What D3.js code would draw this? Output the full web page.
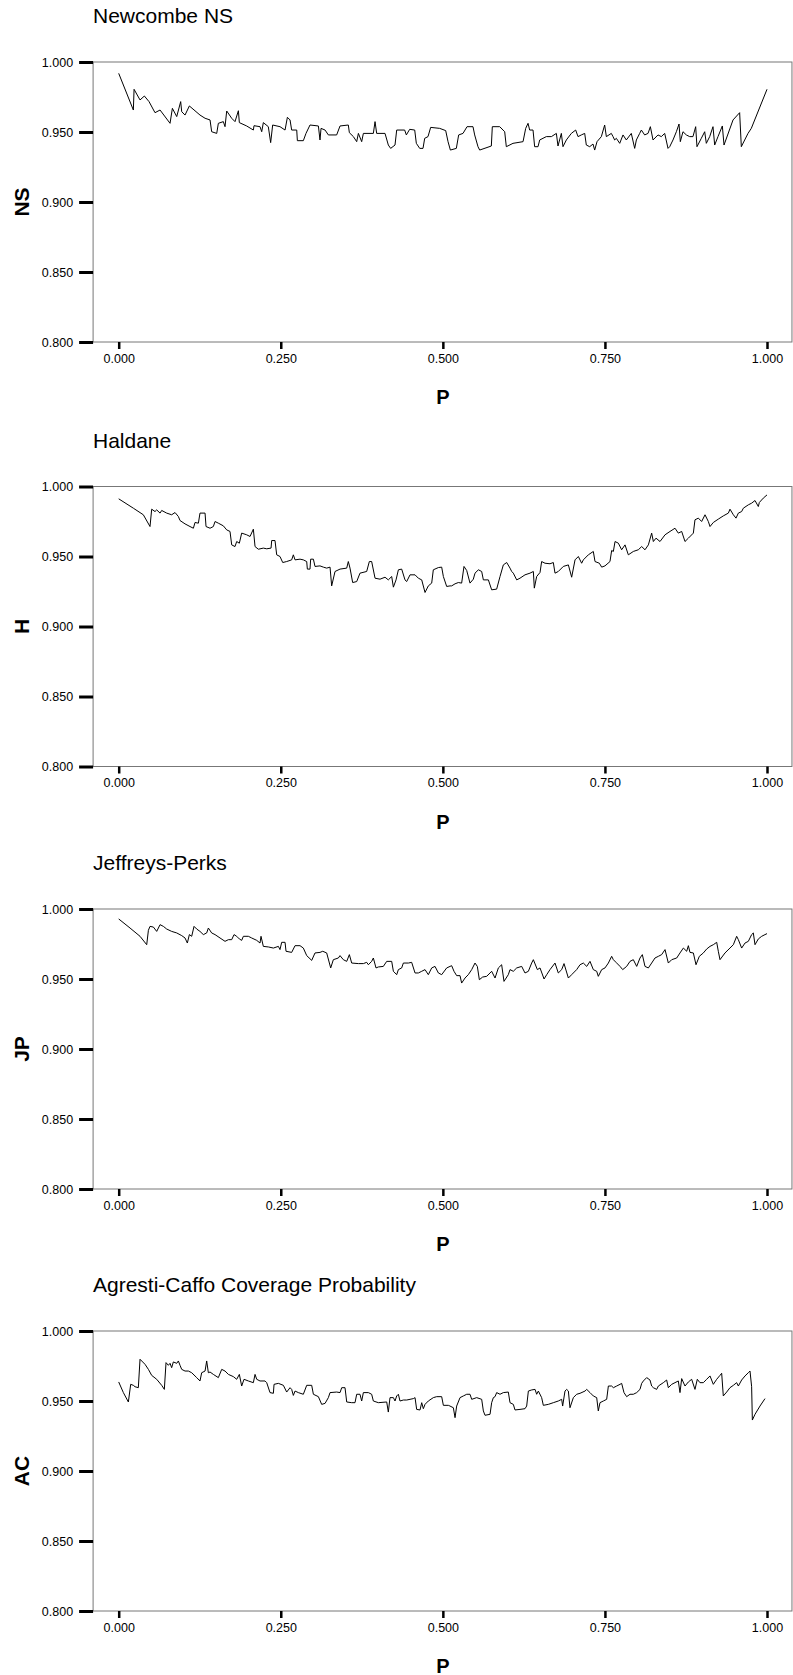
<!DOCTYPE html>
<html>
<head>
<meta charset="utf-8">
<script src="https://cdn.jsdelivr.net/npm/d3@7"></script>
<style>
  body { margin: 0; background: #fff; }
  text { font-family: "Liberation Sans", Arial, sans-serif; }
</style>
</head>
<body>
<div id="Chart"></div>
<script>
// values: [P, coverage]
const newcombeNS = [
  [0.000,0.9919],[0.0226,0.9657],[0.0237,0.9805],[0.0329,0.9729],[0.0396,0.9757],[0.0468,0.9717],[0.0560,0.9638],[0.0638,0.9657],
  [0.0792,0.9562],[0.0828,0.9669],[0.0895,0.9610],[0.0956,0.9717],[0.0972,0.9645],[0.1023,0.9621],[0.1090,0.9686],[0.1254,0.9621],
  [0.1332,0.9598],[0.1409,0.9586],[0.1434,0.9502],[0.1512,0.9490],[0.1537,0.9562],[0.1614,0.9574],[0.1640,0.9538],[0.1666,0.9650],
  [0.1743,0.9598],[0.1794,0.9574],[0.1846,0.9652],[0.1861,0.9567],[0.1974,0.9543],[0.2077,0.9514],[0.2087,0.9545],[0.2180,0.9538],
  [0.2206,0.9502],[0.2231,0.9567],[0.2308,0.9538],[0.2344,0.9424],[0.2375,0.9550],[0.2488,0.9538],[0.2566,0.9514],[0.2602,0.9605],
  [0.2643,0.9586],[0.2668,0.9514],[0.2746,0.9514],[0.2756,0.9438],[0.2848,0.9438],[0.2889,0.9490],[0.2951,0.9550],[0.3080,0.9543],
  [0.3105,0.9443],[0.3121,0.9526],[0.3183,0.9514],[0.3234,0.9479],[0.3362,0.9479],[0.3414,0.9543],[0.3542,0.9550],[0.3558,0.9495],
  [0.3620,0.9467],[0.3671,0.9431],[0.3697,0.9490],[0.3748,0.9431],[0.3774,0.9490],[0.3928,0.9490],[0.3954,0.9574],[0.3979,0.9490],
  [0.4108,0.9490],[0.4159,0.9407],[0.4195,0.9383],[0.4262,0.9407],[0.4288,0.9514],[0.4411,0.9514],[0.4437,0.9479],[0.4488,0.9519],
  [0.4566,0.9514],[0.4591,0.9419],[0.4643,0.9383],[0.4694,0.9383],[0.4720,0.9455],[0.4771,0.9467],[0.4812,0.9533],[0.4951,0.9526],
  [0.5044,0.9510],[0.5080,0.9431],[0.5116,0.9371],[0.5208,0.9383],[0.5244,0.9479],[0.5311,0.9490],[0.5373,0.9538],[0.5465,0.9538],
  [0.5491,0.9479],[0.5542,0.9395],[0.5568,0.9371],[0.5748,0.9400],[0.5763,0.9538],[0.5877,0.9538],[0.5954,0.9502],[0.5979,0.9395],
  [0.6082,0.9419],[0.6237,0.9431],[0.6278,0.9526],[0.6314,0.9562],[0.6339,0.9514],[0.6391,0.9514],[0.6416,0.9395],[0.6468,0.9395],
  [0.6494,0.9443],[0.6596,0.9467],[0.6674,0.9467],[0.6751,0.9490],[0.6776,0.9400],[0.6828,0.9490],[0.6853,0.9395],[0.6905,0.9443],
  [0.6982,0.9490],[0.7049,0.9514],[0.7085,0.9467],[0.7136,0.9479],[0.7188,0.9490],[0.7213,0.9407],[0.7265,0.9395],[0.7316,0.9414],
  [0.7342,0.9371],[0.7378,0.9431],[0.7445,0.9467],[0.7496,0.9550],[0.7522,0.9467],[0.7599,0.9490],[0.7625,0.9467],[0.7650,0.9443],
  [0.7676,0.9455],[0.7728,0.9419],[0.7779,0.9479],[0.7830,0.9443],[0.7907,0.9490],[0.7959,0.9383],[0.7985,0.9443],[0.8036,0.9490],
  [0.8062,0.9514],[0.8113,0.9479],[0.8165,0.9490],[0.8201,0.9538],[0.8242,0.9443],[0.8319,0.9479],[0.8370,0.9467],[0.8422,0.9490],
  [0.8473,0.9383],[0.8499,0.9395],[0.8550,0.9443],[0.8602,0.9502],[0.8643,0.9557],[0.8663,0.9431],[0.8704,0.9502],[0.8756,0.9479],
  [0.8807,0.9467],[0.8858,0.9467],[0.8900,0.9538],[0.8920,0.9395],[0.8987,0.9455],[0.9039,0.9502],[0.9064,0.9419],[0.9116,0.9467],
  [0.9167,0.9538],[0.9193,0.9407],[0.9244,0.9467],[0.9311,0.9543],[0.9337,0.9407],[0.9476,0.9586],[0.9578,0.9638],[0.9604,0.9395],
  [0.9707,0.9490],[0.9758,0.9526],[1.000,0.9805]
]
const haldane = [
  [0.000,0.9912],[0.0226,0.9845],[0.0380,0.9798],[0.0483,0.9714],[0.0509,0.9838],[0.0560,0.9821],[0.0586,0.9833],[0.0638,0.9810],
  [0.0663,0.9829],[0.0740,0.9810],[0.0817,0.9798],[0.0869,0.9814],[0.0920,0.9786],[0.0946,0.9757],[0.1023,0.9733],[0.1100,0.9714],
  [0.1152,0.9702],[0.1177,0.9743],[0.1229,0.9738],[0.1254,0.9810],[0.1332,0.9810],[0.1347,0.9714],[0.1409,0.9702],[0.1460,0.9714],
  [0.1486,0.9750],[0.1537,0.9738],[0.1614,0.9719],[0.1666,0.9690],[0.1717,0.9679],[0.1743,0.9583],[0.1794,0.9571],[0.1820,0.9607],
  [0.1861,0.9595],[0.1897,0.9667],[0.1974,0.9655],[0.2026,0.9643],[0.2077,0.9695],[0.2103,0.9571],[0.2154,0.9552],[0.2231,0.9560],
  [0.2283,0.9555],[0.2350,0.9560],[0.2360,0.9614],[0.2411,0.9614],[0.2437,0.9512],[0.2488,0.9500],[0.2530,0.9457],[0.2591,0.9464],
  [0.2668,0.9476],[0.2694,0.9512],[0.2720,0.9476],[0.2797,0.9481],[0.2848,0.9476],[0.2900,0.9464],[0.2910,0.9410],[0.2951,0.9410],
  [0.2961,0.9481],[0.3003,0.9481],[0.3028,0.9429],[0.3105,0.9433],[0.3157,0.9424],[0.3208,0.9417],[0.3260,0.9424],[0.3285,0.9290],
  [0.3337,0.9393],[0.3414,0.9410],[0.3517,0.9417],[0.3542,0.9464],[0.3568,0.9417],[0.3609,0.9314],[0.3671,0.9321],[0.3722,0.9381],
  [0.3825,0.9393],[0.3866,0.9464],[0.3902,0.9464],[0.3954,0.9345],[0.4031,0.9338],[0.4108,0.9352],[0.4159,0.9333],[0.4211,0.9357],
  [0.4237,0.9281],[0.4278,0.9333],[0.4314,0.9405],[0.4365,0.9410],[0.4416,0.9333],[0.4442,0.9321],[0.4494,0.9369],[0.4571,0.9369],
  [0.4622,0.9345],[0.4674,0.9333],[0.4725,0.9243],[0.4776,0.9290],[0.4828,0.9310],[0.4853,0.9405],[0.4931,0.9421],[0.4982,0.9424],
  [0.5008,0.9357],[0.5059,0.9286],[0.5111,0.9290],[0.5136,0.9290],[0.5188,0.9305],[0.5239,0.9314],[0.5290,0.9310],[0.5326,0.9429],
  [0.5368,0.9400],[0.5419,0.9310],[0.5470,0.9338],[0.5496,0.9381],[0.5548,0.9405],[0.5599,0.9393],[0.5625,0.9333],[0.5702,0.9333],
  [0.5753,0.9262],[0.5830,0.9267],[0.5882,0.9357],[0.5933,0.9440],[0.5985,0.9457],[0.6036,0.9417],[0.6062,0.9393],[0.6087,0.9381],
  [0.6139,0.9333],[0.6190,0.9345],[0.6267,0.9369],[0.6344,0.9381],[0.6396,0.9393],[0.6411,0.9274],[0.6447,0.9357],[0.6499,0.9386],
  [0.6524,0.9464],[0.6576,0.9452],[0.6653,0.9448],[0.6704,0.9457],[0.6730,0.9381],[0.6781,0.9393],[0.6858,0.9429],[0.6936,0.9440],
  [0.6987,0.9352],[0.7039,0.9476],[0.7090,0.9500],[0.7141,0.9452],[0.7167,0.9476],[0.7244,0.9512],[0.7321,0.9536],[0.7347,0.9464],
  [0.7414,0.9452],[0.7450,0.9424],[0.7501,0.9433],[0.7578,0.9464],[0.7604,0.9543],[0.7630,0.9536],[0.7656,0.9607],[0.7707,0.9595],
  [0.7758,0.9548],[0.7810,0.9583],[0.7861,0.9512],[0.7938,0.9536],[0.8015,0.9548],[0.8067,0.9571],[0.8118,0.9548],[0.8170,0.9583],
  [0.8221,0.9667],[0.8247,0.9607],[0.8288,0.9631],[0.8350,0.9607],[0.8427,0.9655],[0.8504,0.9679],[0.8581,0.9702],[0.8632,0.9667],
  [0.8684,0.9679],[0.8735,0.9607],[0.8787,0.9631],[0.8864,0.9667],[0.8889,0.9762],[0.8941,0.9774],[0.8992,0.9750],[0.9044,0.9798],
  [0.9095,0.9750],[0.9121,0.9714],[0.9172,0.9743],[0.9249,0.9767],[0.9326,0.9790],[0.9404,0.9810],[0.9429,0.9838],[0.9481,0.9798],
  [0.9522,0.9774],[0.9558,0.9810],[0.9609,0.9821],[0.9635,0.9845],[0.9712,0.9869],[0.9763,0.9881],[0.9815,0.9900],[0.9866,0.9857],
  [0.9882,0.9886],[0.9943,0.9917],[1.000,0.9940]
]
const jeffreysPerks = [
  [0.000,0.9929],[0.0175,0.9864],[0.0329,0.9805],[0.0432,0.9745],[0.0458,0.9848],[0.0483,0.9876],[0.0535,0.9871],[0.0586,0.9840],
  [0.0638,0.9888],[0.0689,0.9876],[0.0740,0.9857],[0.0817,0.9840],[0.0895,0.9829],[0.0972,0.9810],[0.1023,0.9793],[0.1059,0.9757],
  [0.1090,0.9817],[0.1126,0.9805],[0.1162,0.9876],[0.1203,0.9857],[0.1254,0.9840],[0.1306,0.9817],[0.1357,0.9829],[0.1383,0.9864],
  [0.1434,0.9829],[0.1486,0.9817],[0.1563,0.9793],[0.1640,0.9769],[0.1692,0.9781],[0.1743,0.9781],[0.1779,0.9817],[0.1820,0.9805],
  [0.1861,0.9786],[0.1897,0.9776],[0.1923,0.9805],[0.2000,0.9805],[0.2051,0.9793],[0.2129,0.9776],[0.2180,0.9757],[0.2195,0.9805],
  [0.2231,0.9733],[0.2308,0.9729],[0.2386,0.9721],[0.2463,0.9733],[0.2488,0.9710],[0.2514,0.9762],[0.2566,0.9762],[0.2581,0.9698],
  [0.2668,0.9690],[0.2720,0.9738],[0.2797,0.9738],[0.2848,0.9721],[0.2900,0.9667],[0.2977,0.9633],[0.3028,0.9686],[0.3105,0.9690],
  [0.3147,0.9698],[0.3208,0.9686],[0.3270,0.9579],[0.3311,0.9638],[0.3388,0.9650],[0.3414,0.9667],[0.3465,0.9638],[0.3517,0.9626],
  [0.3558,0.9674],[0.3594,0.9614],[0.3697,0.9610],[0.3774,0.9610],[0.3825,0.9619],[0.3851,0.9602],[0.3902,0.9626],[0.3928,0.9650],
  [0.3969,0.9579],[0.4005,0.9586],[0.4082,0.9590],[0.4134,0.9626],[0.4211,0.9626],[0.4237,0.9555],[0.4288,0.9531],[0.4314,0.9567],
  [0.4365,0.9579],[0.4391,0.9614],[0.4468,0.9614],[0.4519,0.9619],[0.4571,0.9543],[0.4622,0.9543],[0.4674,0.9555],[0.4725,0.9567],
  [0.4776,0.9531],[0.4828,0.9579],[0.4879,0.9590],[0.4931,0.9543],[0.4982,0.9531],[0.5059,0.9579],[0.5111,0.9590],[0.5136,0.9595],
  [0.5172,0.9555],[0.5213,0.9524],[0.5265,0.9524],[0.5290,0.9471],[0.5342,0.9507],[0.5393,0.9531],[0.5445,0.9567],[0.5496,0.9614],
  [0.5532,0.9590],[0.5563,0.9495],[0.5614,0.9514],[0.5676,0.9519],[0.5753,0.9555],[0.5805,0.9507],[0.5856,0.9579],[0.5907,0.9602],
  [0.5943,0.9483],[0.6010,0.9531],[0.6036,0.9567],[0.6087,0.9555],[0.6139,0.9579],[0.6216,0.9590],[0.6267,0.9543],[0.6319,0.9555],
  [0.6370,0.9614],[0.6396,0.9638],[0.6458,0.9567],[0.6499,0.9579],[0.6561,0.9500],[0.6602,0.9531],[0.6653,0.9567],[0.6730,0.9614],
  [0.6781,0.9543],[0.6833,0.9567],[0.6869,0.9610],[0.6936,0.9507],[0.6987,0.9531],[0.7064,0.9567],[0.7116,0.9602],[0.7167,0.9614],
  [0.7219,0.9590],[0.7270,0.9626],[0.7321,0.9567],[0.7373,0.9555],[0.7398,0.9519],[0.7450,0.9567],[0.7501,0.9579],[0.7553,0.9614],
  [0.7604,0.9662],[0.7630,0.9638],[0.7671,0.9619],[0.7733,0.9590],[0.7774,0.9567],[0.7835,0.9590],[0.7887,0.9626],[0.7938,0.9638],
  [0.7990,0.9590],[0.8041,0.9650],[0.8077,0.9674],[0.8118,0.9590],[0.8170,0.9579],[0.8221,0.9614],[0.8272,0.9650],[0.8324,0.9662],
  [0.8375,0.9674],[0.8427,0.9710],[0.8478,0.9614],[0.8530,0.9638],[0.8607,0.9650],[0.8658,0.9686],[0.8710,0.9721],[0.8761,0.9698],
  [0.8787,0.9738],[0.8812,0.9690],[0.8864,0.9686],[0.8905,0.9602],[0.8956,0.9662],[0.9018,0.9686],[0.9069,0.9714],[0.9121,0.9733],
  [0.9172,0.9745],[0.9224,0.9762],[0.9249,0.9698],[0.9275,0.9638],[0.9352,0.9686],[0.9429,0.9721],[0.9481,0.9745],[0.9532,0.9805],
  [0.9558,0.9781],[0.9609,0.9721],[0.9661,0.9757],[0.9712,0.9769],[0.9763,0.9817],[0.9789,0.9829],[0.9815,0.9745],[0.9866,0.9786],
  [0.9918,0.9805],[0.9969,0.9817],[1.000,0.9824]
]
const agrestiCaffo = [
  [0.000,0.9636],[0.0072,0.9560],[0.0149,0.9493],[0.0185,0.9619],[0.0226,0.9612],[0.0252,0.9602],[0.0303,0.9595],[0.0329,0.9798],
  [0.0406,0.9762],[0.0458,0.9726],[0.0509,0.9683],[0.0586,0.9655],[0.0663,0.9612],[0.0704,0.9583],[0.0730,0.9774],[0.0766,0.9755],
  [0.0792,0.9769],[0.0817,0.9738],[0.0843,0.9779],[0.0895,0.9769],[0.0920,0.9786],[0.0946,0.9755],[0.0972,0.9726],[0.1023,0.9714],
  [0.1075,0.9714],[0.1126,0.9702],[0.1203,0.9667],[0.1254,0.9643],[0.1280,0.9702],[0.1332,0.9714],[0.1357,0.9786],[0.1383,0.9702],
  [0.1409,0.9707],[0.1460,0.9690],[0.1537,0.9667],[0.1589,0.9726],[0.1640,0.9714],[0.1692,0.9690],[0.1769,0.9674],[0.1820,0.9655],
  [0.1861,0.9690],[0.1897,0.9607],[0.1933,0.9655],[0.2000,0.9643],[0.2077,0.9631],[0.2103,0.9690],[0.2129,0.9655],[0.2180,0.9643],
  [0.2257,0.9643],[0.2283,0.9631],[0.2334,0.9560],[0.2386,0.9555],[0.2396,0.9619],[0.2463,0.9626],[0.2540,0.9612],[0.2591,0.9564],
  [0.2643,0.9595],[0.2668,0.9583],[0.2694,0.9540],[0.2720,0.9571],[0.2771,0.9560],[0.2848,0.9548],[0.2900,0.9612],[0.2977,0.9612],
  [0.3003,0.9548],[0.3080,0.9531],[0.3131,0.9476],[0.3183,0.9483],[0.3234,0.9524],[0.3260,0.9560],[0.3362,0.9564],[0.3414,0.9560],
  [0.3440,0.9595],[0.3491,0.9595],[0.3517,0.9493],[0.3594,0.9488],[0.3645,0.9488],[0.3671,0.9548],[0.3722,0.9548],[0.3748,0.9500],
  [0.3774,0.9560],[0.3851,0.9560],[0.3902,0.9548],[0.3928,0.9500],[0.4005,0.9488],[0.4134,0.9493],[0.4159,0.9421],[0.4185,0.9524],
  [0.4237,0.9524],[0.4262,0.9500],[0.4288,0.9536],[0.4314,0.9548],[0.4339,0.9500],[0.4391,0.9507],[0.4442,0.9507],[0.4545,0.9517],
  [0.4571,0.9524],[0.4596,0.9440],[0.4648,0.9436],[0.4674,0.9488],[0.4699,0.9445],[0.4725,0.9476],[0.4776,0.9500],[0.4853,0.9524],
  [0.4905,0.9531],[0.4982,0.9531],[0.5008,0.9469],[0.5085,0.9469],[0.5110,0.9464],[0.5162,0.9452],[0.5188,0.9381],[0.5213,0.9464],
  [0.5265,0.9524],[0.5316,0.9536],[0.5368,0.9548],[0.5419,0.9548],[0.5445,0.9512],[0.5522,0.9524],[0.5599,0.9512],[0.5625,0.9429],
  [0.5650,0.9398],[0.5728,0.9405],[0.5753,0.9488],[0.5779,0.9524],[0.5805,0.9531],[0.5830,0.9560],[0.5882,0.9548],[0.5933,0.9560],
  [0.6010,0.9564],[0.6036,0.9488],[0.6087,0.9476],[0.6113,0.9436],[0.6190,0.9440],[0.6267,0.9445],[0.6293,0.9464],[0.6319,0.9571],
  [0.6370,0.9579],[0.6422,0.9583],[0.6447,0.9548],[0.6473,0.9571],[0.6524,0.9524],[0.6550,0.9469],[0.6627,0.9476],[0.6704,0.9488],
  [0.6781,0.9500],[0.6833,0.9512],[0.6848,0.9464],[0.6884,0.9571],[0.6910,0.9583],[0.6936,0.9571],[0.6961,0.9452],[0.7013,0.9524],
  [0.7064,0.9548],[0.7116,0.9555],[0.7193,0.9571],[0.7219,0.9583],[0.7270,0.9560],[0.7321,0.9536],[0.7373,0.9524],[0.7398,0.9429],
  [0.7424,0.9488],[0.7476,0.9500],[0.7527,0.9512],[0.7553,0.9607],[0.7604,0.9607],[0.7630,0.9595],[0.7681,0.9607],[0.7733,0.9619],
  [0.7758,0.9626],[0.7794,0.9560],[0.7835,0.9531],[0.7887,0.9548],[0.7938,0.9548],[0.7990,0.9560],[0.8041,0.9583],[0.8067,0.9626],
  [0.8093,0.9643],[0.8144,0.9667],[0.8195,0.9650],[0.8221,0.9607],[0.8247,0.9595],[0.8298,0.9583],[0.8324,0.9607],[0.8401,0.9631],
  [0.8452,0.9650],[0.8478,0.9595],[0.8530,0.9619],[0.8581,0.9631],[0.8632,0.9643],[0.8658,0.9560],[0.8684,0.9660],[0.8735,0.9607],
  [0.8787,0.9636],[0.8838,0.9655],[0.8889,0.9583],[0.8925,0.9655],[0.8966,0.9631],[0.9018,0.9631],[0.9069,0.9655],[0.9121,0.9679],
  [0.9172,0.9619],[0.9224,0.9655],[0.9275,0.9683],[0.9301,0.9698],[0.9326,0.9536],[0.9378,0.9564],[0.9429,0.9595],[0.9481,0.9612],
  [0.9532,0.9631],[0.9558,0.9607],[0.9609,0.9650],[0.9661,0.9679],[0.9712,0.9702],[0.9738,0.9714],[0.9763,0.9602],[0.9774,0.9364],
  [0.9815,0.9405],[0.9892,0.9464],[0.9969,0.9517]
]

const titles = ["Newcombe NS", "Haldane", "Jeffreys-Perks", "Agresti-Caffo Coverage Probability"]
const yLabels = ["NS", "H", "JP", "AC"]
const xTicks = [0, 0.25, 0.5, 0.75, 1]
const yTicks = [0.8, 0.85, 0.9, 0.95, 1.0]
const series = [newcombeNS, haldane, jeffreysPerks, agrestiCaffo]

const W = 793, H = 1675
const tops = [62, 486.5, 909, 1331]
const plotH = 280

var svg = d3.select("#Chart").append("svg")
  .attr("width", W)
  .attr("height", H)

var x = d3.scaleLinear().domain([0, 1]).range([118.7, 767])
var frameL = x(-0.0395), frameR = x(1.0385)

series.forEach((data, i) => {
  var top = tops[i]
  var y = d3.scaleLinear().domain([0.8, 1.0]).range([top + plotH, top])
  var g = svg.append("g")

  g.append("text") // panel title
    .attr("x", 93)
    .attr("y", top - 39)
    .style("font-size", "21px")
    .text(titles[i])

  g.append("rect") // frame
    .attr("x", frameL)
    .attr("y", top)
    .attr("width", frameR - frameL)
    .attr("height", plotH)
    .attr("fill", "none")
    .attr("stroke", "#777")
    .attr("stroke-width", 1)

  var yAxis = g.append("g")
    .attr("transform", `translate(${frameL},0)`)
    .call(d3.axisLeft(y).tickValues(yTicks).tickFormat(d3.format(".3f")).tickSize(14).tickPadding(6))
  yAxis.select(".domain").remove()
  yAxis.selectAll("line").attr("stroke", "#000").attr("stroke-width", 3)
  yAxis.selectAll("text").style("font-size", "12.5px").attr("fill", "#000")
    .style("font-family", "'Liberation Sans', Arial, sans-serif")

  var xAxis = g.append("g")
    .attr("transform", `translate(0,${top + plotH})`)
    .call(d3.axisBottom(x).tickValues(xTicks).tickFormat(d3.format(".3f")).tickSize(7).tickPadding(5))
  xAxis.select(".domain").remove()
  xAxis.selectAll("line").attr("stroke", "#000").attr("stroke-width", 2.5)
  xAxis.selectAll("text").style("font-size", "12.5px").attr("fill", "#000")
    .style("font-family", "'Liberation Sans', Arial, sans-serif")

  g.append("text") // x label
    .attr("x", x(0.5))
    .attr("y", Math.min(top + plotH + 62, H - 2))
    .attr("text-anchor", "middle")
    .style("font-size", "20px")
    .style("font-weight", "bold")
    .text("P")

  g.append("text") // y label
    .attr("transform", `translate(29,${top + plotH / 2}) rotate(-90)`)
    .attr("text-anchor", "middle")
    .style("font-size", "21px")
    .style("font-weight", "bold")
    .text(yLabels[i])

  var line = d3.line()
    .x(d => x(d[0]))
    .y(d => y(d[1]))

  g.append("path")
    .datum(data)
    .attr("d", line)
    .attr("fill", "none")
    .attr("stroke", "#000")
    .attr("stroke-width", 1)
})
</script>
</body>
</html>
